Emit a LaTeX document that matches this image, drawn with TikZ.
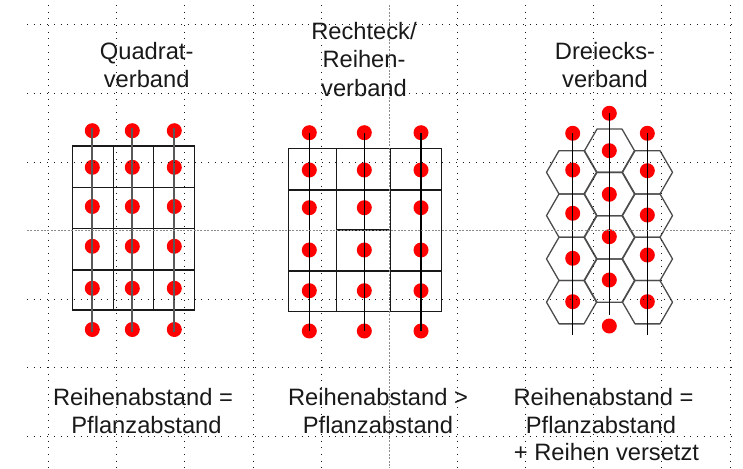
\documentclass[tikz,border=0pt]{standalone}
\usepackage{fontspec}
\setmainfont{Liberation Sans}
\begin{document}
\begin{tikzpicture}[x=1pt,y=-1pt,
  lbl/.style={font=\fontsize{23.7}{28}\selectfont, inner sep=0pt, anchor=base, text=black!90},
  cell/.style={draw=black!90, line width=1.4pt},
  plant/.style={circle, fill=red, minimum size=15pt, inner sep=0pt},
  rowa/.style={draw=black!65, line width=2pt},
  rowb/.style={draw=black, line width=1.2pt},
  hexa/.style={draw=black!70, line width=1.3pt, line join=round},
  gridl/.style={draw=black!90, line width=1pt, dash pattern=on 1pt off 5.7pt},
  gridc/.style={draw=black!45, line width=1pt, dash pattern=on 2pt off 1.4pt}]
\useasboundingbox (0,0) rectangle (743,468);

% ---------- Panel 1: Quadratverband ----------
\draw[cell] (72.3,146) rectangle (194.3,310);
\foreach \x in {113.3,153.3} \draw[cell] (\x,146) -- (\x,310);
\foreach \y in {187.3,228.3,270} \draw[cell] (72.3,\y) -- (194.3,\y);
\foreach \x [count=\i] in {92.3,132.3,174.3}{
  \foreach \y [count=\j] in {130.7,167.3,206.5,246.3,288.3,329.5}{
    \node[plant] (qa\i\j) at (\x,\y) {};
  }
  \draw[rowa] ([yshift=2.5pt]qa\i1.center) -- ([yshift=-2.5pt]qa\i6.center);
}

% ---------- Panel 2: Rechteck-/Reihenverband ----------
\draw[cell] (288.3,148.3) rectangle (441.7,311.7);
\foreach \x in {336.7,390.7} \draw[cell] (\x,148.3) -- (\x,311.7);
\foreach \y in {190,271} \draw[cell] (288.3,\y) -- (441.7,\y);
\draw[cell] (336.7,230) -- (390.7,230);
\foreach \x [count=\i] in {309.3,364.3,421}{
  \foreach \y [count=\j] in {132.7,170,207.7,250,290.7,331}{
    \node[plant] (rb\i\j) at (\x,\y) {};
  }
  \draw[rowb] (rb\i1.center) -- (rb\i6.center);
}

% ---------- Panel 3: Dreiecksverband ----------
\foreach \cx/\cy in {571.5/172.3, 571.5/215.6, 571.5/258.9, 571.5/302.2,
                     609.5/150.7, 609.5/194.0, 609.5/237.3, 609.5/280.6,
                     647.5/172.3, 647.5/215.6, 647.5/258.9, 647.5/302.2}{
  \draw[hexa] (\cx+25,\cy) -- (\cx+12.5,\cy-21.65) -- (\cx-12.5,\cy-21.65)
     -- (\cx-25,\cy) -- (\cx-12.5,\cy+21.65) -- (\cx+12.5,\cy+21.65) -- cycle;
}
\foreach \y [count=\j] in {133.3,170,213.3,258.3,301.7}
  \node[plant] (dl\j) at (572.7,\y) {};
\foreach \y [count=\j] in {113.3,150.7,194.3,236.7,280,326}
  \node[plant] (dm\j) at (609.3,\y) {};
\foreach \y [count=\j] in {133.3,170.7,215,255,301.7}
  \node[plant] (dr\j) at (647.3,\y) {};
\coordinate (dlend) at (572.7,335);
\coordinate (dmend) at (609.3,315);
\coordinate (drend) at (647.3,335);
\draw[rowb] (dl1.center) -- (dlend);
\draw[rowb] (dm1.center) -- (dmend);
\draw[rowb] (dr1.center) -- (drend);

% ---------- Guide grid ----------
\foreach \k in {0,1,2,3,4,6,7,8,9,10}
  \draw[gridl] (48.6+68.15*\k,5) -- (48.6+68.15*\k,468);
\draw[gridc] (389.35,5) -- (389.35,468);
\foreach \k in {0,1,2,4,5,6}
  \draw[gridl] (27,25+68.5*\k) -- (735,25+68.5*\k);
\draw[gridc] (27,230.5) -- (735,230.5);

% ---------- Titles ----------
\node[lbl] (t1a) at (146.7,60) {Quadrat-};
\node[lbl] (t1b) at (146.7,88) {verband};
\node[lbl] (t2a) at (364,40) {Rechteck/};
\node[lbl] (t2b) at (364,68) {Reihen-};
\node[lbl] (t2c) at (364,96) {verband};
\node[lbl] (t3a) at (605,60) {Dreiecks-};
\node[lbl] (t3b) at (605,88) {verband};

% ---------- Captions ----------
\node[lbl] (c1a) at (143,405) {Reihenabstand =};
\node[lbl] (c1b) at (146.5,433) {Pflanzabstand};
\node[lbl] (c2a) at (378,405) {Reihenabstand >};
\node[lbl] (c2b) at (378,433) {Pflanzabstand};
\node[lbl] (c3a) at (603.5,405) {Reihenabstand =};
\node[lbl] (c3b) at (601,433) {Pflanzabstand};
\node[lbl] (c3c) at (606.5,460) {+ Reihen versetzt};
\end{tikzpicture}
\end{document}
